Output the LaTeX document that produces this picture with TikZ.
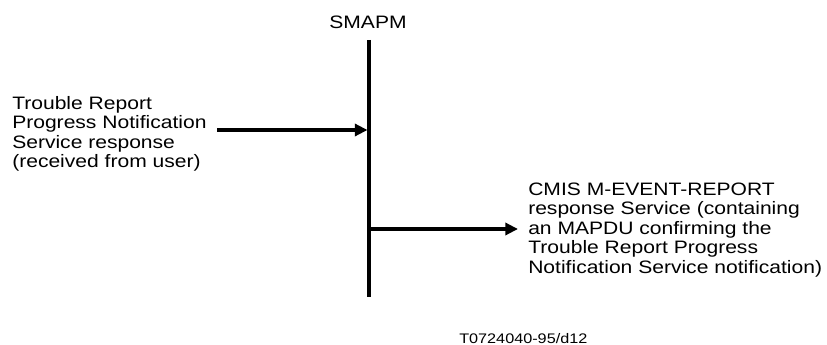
\documentclass[tikz,border=0pt]{standalone}
\usepackage{fontspec}
\usetikzlibrary{arrows.meta}
% Arial-metric sans, slightly widened
\newfontfamily\diagfont[FakeStretch=1.17]{Liberation Sans}
\begin{document}
\begin{tikzpicture}[x=0.75pt,y=-0.75pt,
  lbl/.style={inner sep=0pt, align=left,
    font={\diagfont\fontsize{13.5pt}{14.6pt}\selectfont}},
  tag/.style={inner sep=0pt,
    font={\diagfont\fontsize{10.4pt}{12pt}\selectfont}},
  life/.style={line width=2.6pt},
  msg/.style={line width=2.4pt, -{Triangle[length=9.5pt,width=9pt]}}]
\useasboundingbox (0,0) rectangle (827,345);

% SMAPM lifeline
\node[lbl, anchor=base] (smapm) at (368,29) {SMAPM};
\coordinate (ltop) at (369,40);
\coordinate (lbot) at (369,297);
\draw[life] (ltop) -- (lbot);

% incoming primitive from the user (base anchor = last line's baseline)
\node[lbl, anchor=base west] (inTxt) at (12,167.5)
  {Trouble Report\\Progress Notification\\Service response\\(received from user)};
\coordinate (inStart) at (217,130);
\coordinate (inEnd) at (367.5,130);
\draw[msg] (inStart) -- (inEnd);

% outgoing CMIS response
\node[lbl, anchor=base west] (outTxt) at (528,273)
  {CMIS M-EVENT-REPORT\\response Service (containing\\an MAPDU confirming the\\Trouble Report Progress\\Notification Service notification)};
\coordinate (outStart) at (369,229);
\coordinate (outEnd) at (518,229);
\draw[msg] (outStart) -- (outEnd);

% figure tag
\node[tag, anchor=base west] (figtag) at (459,343) {T0724040-95/d12};
\end{tikzpicture}
\end{document}
